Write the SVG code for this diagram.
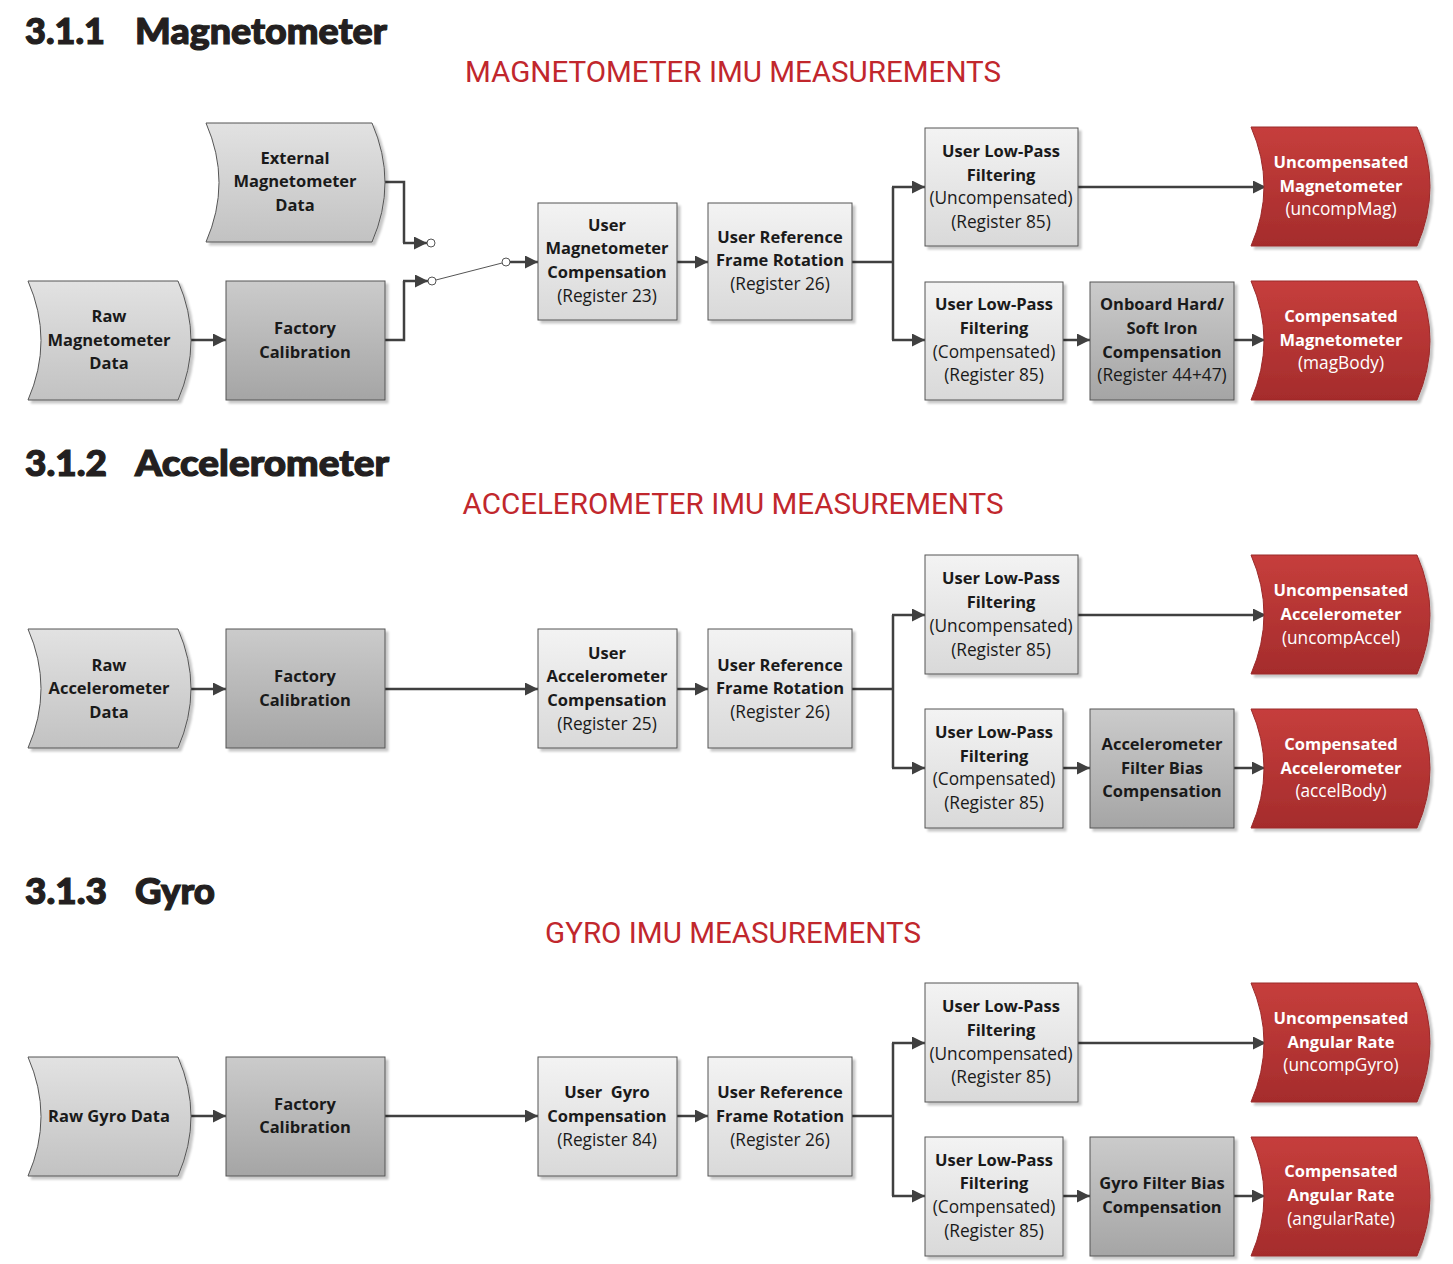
<svg xmlns="http://www.w3.org/2000/svg" width="1453" height="1264" viewBox="0 0 1453 1264">
<defs>
<linearGradient id="gL" x1="0" y1="0" x2="0" y2="1"><stop offset="0" stop-color="#f3f3f3"/><stop offset="1" stop-color="#d9d9d9"/></linearGradient>
<linearGradient id="gD" x1="0" y1="0" x2="0" y2="1"><stop offset="0" stop-color="#cbcbcb"/><stop offset="1" stop-color="#a5a5a5"/></linearGradient>
<linearGradient id="gS" x1="0" y1="0" x2="0" y2="1"><stop offset="0" stop-color="#e2e2e2"/><stop offset="1" stop-color="#c2c2c2"/></linearGradient>
<linearGradient id="gR" x1="0" y1="0" x2="0" y2="1"><stop offset="0" stop-color="#c63e3c"/><stop offset="1" stop-color="#a52c2c"/></linearGradient>
<filter id="sh" x="-10%" y="-10%" width="120%" height="120%"><feDropShadow dx="3" dy="3" stdDeviation="1.2" flood-color="#000" flood-opacity="0.22"/></filter>
<marker id="ah" viewBox="0 0 10 10" refX="10" refY="5" markerWidth="15" markerHeight="13" markerUnits="userSpaceOnUse" orient="auto"><path d="M0,0 L10,5 L0,10 Z" fill="#404040"/></marker>
</defs>
<style>
.box{stroke:#555;stroke-width:1;filter:url(#sh)}
.lt{fill:url(#gL)}
.dk{fill:url(#gD)}
.sd{fill:url(#gS)}
.rd{fill:url(#gR);stroke:#9a2a2a;stroke-width:1;filter:url(#sh)}
text{font-family:"Open Sans","Liberation Sans",sans-serif;font-size:17.3px;text-anchor:middle;fill:#1a1a1a}
.b{font-weight:700;font-size:16.5px}
.w{fill:#ffffff}
.h{font-family:"Lato","Liberation Sans",sans-serif;font-weight:900;font-size:36px;text-anchor:start;fill:#231f20;stroke:#231f20;stroke-width:1.2}
.t{font-family:"Roboto","Liberation Sans",sans-serif;font-size:30px;fill:#c1272d}
.c{fill:none;stroke:#404040;stroke-width:2.5}
.cm{fill:none;stroke:#404040;stroke-width:2.5;marker-end:url(#ah)}
.sw{fill:none;stroke:#555;stroke-width:1}
.sc{fill:#fff;stroke:#555;stroke-width:1}
</style>

<g id="headings">
<text class="h" x="25" y="44" textLength="80" lengthAdjust="spacingAndGlyphs">3.1.1</text>
<text class="h" x="135" y="44" textLength="252" lengthAdjust="spacingAndGlyphs">Magnetometer</text>
<text class="t" x="733" y="82" textLength="536" lengthAdjust="spacingAndGlyphs">MAGNETOMETER IMU MEASUREMENTS</text>
<text class="h" x="25" y="476" textLength="82" lengthAdjust="spacingAndGlyphs">3.1.2</text>
<text class="h" x="135" y="476" textLength="254" lengthAdjust="spacingAndGlyphs">Accelerometer</text>
<text class="t" x="733" y="514" textLength="541" lengthAdjust="spacingAndGlyphs">ACCELEROMETER IMU MEASUREMENTS</text>
<text class="h" x="25" y="904" textLength="82" lengthAdjust="spacingAndGlyphs">3.1.3</text>
<text class="h" x="135" y="904" textLength="80" lengthAdjust="spacingAndGlyphs">Gyro</text>
<text class="t" x="733" y="943" textLength="376" lengthAdjust="spacingAndGlyphs">GYRO IMU MEASUREMENTS</text>
</g>

<g id="connectors">
<!-- magnetometer -->
<path class="c" d="M385,182 H404 V243"/><path class="cm" d="M403,243 H427"/>
<path class="c" d="M385,340 H404 V281"/><path class="cm" d="M403,281 H428"/>
<path class="sw" d="M432,281 L506,262"/>
<circle class="sc" cx="431" cy="243" r="4"/><circle class="sc" cx="432" cy="281" r="4"/><circle class="sc" cx="506" cy="262" r="4"/>
<path class="cm" d="M510,262 H538"/>
<path class="cm" d="M191,340 H226"/>
<path class="cm" d="M677,262 H708"/>
<path class="c" d="M852,262 H893 M893,187 V340"/>
<path class="cm" d="M892,187 H925"/><path class="cm" d="M892,340 H925"/>
<path class="cm" d="M1078,187 H1266"/>
<path class="cm" d="M1063,340 H1090"/>
<path class="cm" d="M1234,340 H1265"/>
<!-- accelerometer -->
<path class="cm" d="M191,689 H226"/>
<path class="cm" d="M385,689 H538"/>
<path class="cm" d="M677,689 H708"/>
<path class="c" d="M852,689 H893 M893,615 V768"/>
<path class="cm" d="M892,615 H925"/><path class="cm" d="M892,768 H925"/>
<path class="cm" d="M1078,615 H1266"/>
<path class="cm" d="M1063,768 H1090"/>
<path class="cm" d="M1234,768 H1265"/>
<!-- gyro -->
<path class="cm" d="M191,1116 H226"/>
<path class="cm" d="M385,1116 H538"/>
<path class="cm" d="M677,1116 H708"/>
<path class="c" d="M852,1116 H893 M893,1043 V1196"/>
<path class="cm" d="M892,1043 H925"/><path class="cm" d="M892,1196 H925"/>
<path class="cm" d="M1078,1043 H1266"/>
<path class="cm" d="M1063,1196 H1090"/>
<path class="cm" d="M1234,1196 H1265"/>
</g>

<!-- Magnetometer nodes -->
<g id="mag-external"><path class="box sd" d="M206,123 H372 Q398,182.5 372,242 H206 Q232,182.5 206,123 Z"/>
<text class="b" x="295" y="164">External</text><text class="b" x="295" y="187">Magnetometer</text><text class="b" x="295" y="211">Data</text></g>
<g id="mag-raw"><path class="box sd" d="M28,281 H178 Q204,340.5 178,400 H28 Q54,340.5 28,281 Z"/>
<text class="b" x="109" y="322">Raw</text><text class="b" x="109" y="346">Magnetometer</text><text class="b" x="109" y="369">Data</text></g>
<g id="mag-factory"><rect class="box dk" x="226" y="281" width="159" height="119"/>
<text class="b" x="305" y="334">Factory</text><text class="b" x="305" y="358">Calibration</text></g>
<g id="mag-usercomp"><rect class="box lt" x="538" y="203" width="139" height="117"/>
<text class="b" x="607" y="231">User</text><text class="b" x="607" y="254">Magnetometer</text><text class="b" x="607" y="278">Compensation</text><text x="607" y="302">(Register 23)</text></g>
<g id="mag-refframe"><rect class="box lt" x="708" y="203" width="144" height="117"/>
<text class="b" x="780" y="243">User Reference</text><text class="b" x="780" y="266">Frame Rotation</text><text x="780" y="290">(Register 26)</text></g>
<g id="mag-lpf-unc"><rect class="box lt" x="925" y="128" width="153" height="118"/>
<text class="b" x="1001" y="157">User Low-Pass</text><text class="b" x="1001" y="181">Filtering</text><text x="1001" y="204">(Uncompensated)</text><text x="1001" y="228">(Register 85)</text></g>
<g id="mag-lpf-comp"><rect class="box lt" x="925" y="282" width="138" height="118"/>
<text class="b" x="994" y="310">User Low-Pass</text><text class="b" x="994" y="334">Filtering</text><text x="994" y="358">(Compensated)</text><text x="994" y="381">(Register 85)</text></g>
<g id="mag-hsi"><rect class="box dk" x="1090" y="282" width="144" height="118"/>
<text class="b" x="1162" y="310">Onboard Hard/</text><text class="b" x="1162" y="334">Soft Iron</text><text class="b" x="1162" y="358">Compensation</text><text x="1162" y="381">(Register 44+47)</text></g>
<g id="mag-out-unc"><path class="rd" d="M1251,127 H1417 Q1443,186.5 1417,246 H1251 Q1277,186.5 1251,127 Z"/>
<text class="b w" x="1341" y="168">Uncompensated</text><text class="b w" x="1341" y="192">Magnetometer</text><text class="w" x="1341" y="215">(uncompMag)</text></g>
<g id="mag-out-comp"><path class="rd" d="M1251,281 H1417 Q1443,340.5 1417,400 H1251 Q1277,340.5 1251,281 Z"/>
<text class="b w" x="1341" y="322">Compensated</text><text class="b w" x="1341" y="346">Magnetometer</text><text class="w" x="1341" y="369">(magBody)</text></g>

<!-- Accelerometer nodes -->
<g id="acc-raw"><path class="box sd" d="M28,629 H178 Q204,688.5 178,748 H28 Q54,688.5 28,629 Z"/>
<text class="b" x="109" y="671">Raw</text><text class="b" x="109" y="694">Accelerometer</text><text class="b" x="109" y="718">Data</text></g>
<g id="acc-factory"><rect class="box dk" x="226" y="629" width="159" height="119"/>
<text class="b" x="305" y="682">Factory</text><text class="b" x="305" y="706">Calibration</text></g>
<g id="acc-usercomp"><rect class="box lt" x="538" y="629" width="139" height="119"/>
<text class="b" x="607" y="659">User</text><text class="b" x="607" y="682">Accelerometer</text><text class="b" x="607" y="706">Compensation</text><text x="607" y="730">(Register 25)</text></g>
<g id="acc-refframe"><rect class="box lt" x="708" y="629" width="144" height="119"/>
<text class="b" x="780" y="671">User Reference</text><text class="b" x="780" y="694">Frame Rotation</text><text x="780" y="718">(Register 26)</text></g>
<g id="acc-lpf-unc"><rect class="box lt" x="925" y="555" width="153" height="119"/>
<text class="b" x="1001" y="584">User Low-Pass</text><text class="b" x="1001" y="608">Filtering</text><text x="1001" y="632">(Uncompensated)</text><text x="1001" y="656">(Register 85)</text></g>
<g id="acc-lpf-comp"><rect class="box lt" x="925" y="709" width="138" height="119"/>
<text class="b" x="994" y="738">User Low-Pass</text><text class="b" x="994" y="762">Filtering</text><text x="994" y="785">(Compensated)</text><text x="994" y="809">(Register 85)</text></g>
<g id="acc-bias"><rect class="box dk" x="1090" y="709" width="144" height="119"/>
<text class="b" x="1162" y="750">Accelerometer</text><text class="b" x="1162" y="774">Filter Bias</text><text class="b" x="1162" y="797">Compensation</text></g>
<g id="acc-out-unc"><path class="rd" d="M1251,555 H1417 Q1443,614.5 1417,674 H1251 Q1277,614.5 1251,555 Z"/>
<text class="b w" x="1341" y="596">Uncompensated</text><text class="b w" x="1341" y="620">Accelerometer</text><text class="w" x="1341" y="644">(uncompAccel)</text></g>
<g id="acc-out-comp"><path class="rd" d="M1251,709 H1417 Q1443,768.5 1417,828 H1251 Q1277,768.5 1251,709 Z"/>
<text class="b w" x="1341" y="750">Compensated</text><text class="b w" x="1341" y="774">Accelerometer</text><text class="w" x="1341" y="797">(accelBody)</text></g>

<!-- Gyro nodes -->
<g id="gyro-raw"><path class="box sd" d="M28,1057 H178 Q204,1116.5 178,1176 H28 Q54,1116.5 28,1057 Z"/>
<text class="b" x="109" y="1122">Raw Gyro Data</text></g>
<g id="gyro-factory"><rect class="box dk" x="226" y="1057" width="159" height="119"/>
<text class="b" x="305" y="1110">Factory</text><text class="b" x="305" y="1133">Calibration</text></g>
<g id="gyro-usercomp"><rect class="box lt" x="538" y="1057" width="139" height="119"/>
<text class="b" x="607" y="1098" style="white-space:pre">User  Gyro</text><text class="b" x="607" y="1122">Compensation</text><text x="607" y="1146">(Register 84)</text></g>
<g id="gyro-refframe"><rect class="box lt" x="708" y="1057" width="144" height="119"/>
<text class="b" x="780" y="1098">User Reference</text><text class="b" x="780" y="1122">Frame Rotation</text><text x="780" y="1146">(Register 26)</text></g>
<g id="gyro-lpf-unc"><rect class="box lt" x="925" y="983" width="153" height="119"/>
<text class="b" x="1001" y="1012">User Low-Pass</text><text class="b" x="1001" y="1036">Filtering</text><text x="1001" y="1060">(Uncompensated)</text><text x="1001" y="1083">(Register 85)</text></g>
<g id="gyro-lpf-comp"><rect class="box lt" x="925" y="1137" width="138" height="119"/>
<text class="b" x="994" y="1166">User Low-Pass</text><text class="b" x="994" y="1189">Filtering</text><text x="994" y="1213">(Compensated)</text><text x="994" y="1237">(Register 85)</text></g>
<g id="gyro-bias"><rect class="box dk" x="1090" y="1137" width="144" height="119"/>
<text class="b" x="1162" y="1189">Gyro Filter Bias</text><text class="b" x="1162" y="1213">Compensation</text></g>
<g id="gyro-out-unc"><path class="rd" d="M1251,983 H1417 Q1443,1042.5 1417,1102 H1251 Q1277,1042.5 1251,983 Z"/>
<text class="b w" x="1341" y="1024">Uncompensated</text><text class="b w" x="1341" y="1048">Angular Rate</text><text class="w" x="1341" y="1071">(uncompGyro)</text></g>
<g id="gyro-out-comp"><path class="rd" d="M1251,1137 H1417 Q1443,1196.5 1417,1256 H1251 Q1277,1196.5 1251,1137 Z"/>
<text class="b w" x="1341" y="1177">Compensated</text><text class="b w" x="1341" y="1201">Angular Rate</text><text class="w" x="1341" y="1225">(angularRate)</text></g>
</svg>
